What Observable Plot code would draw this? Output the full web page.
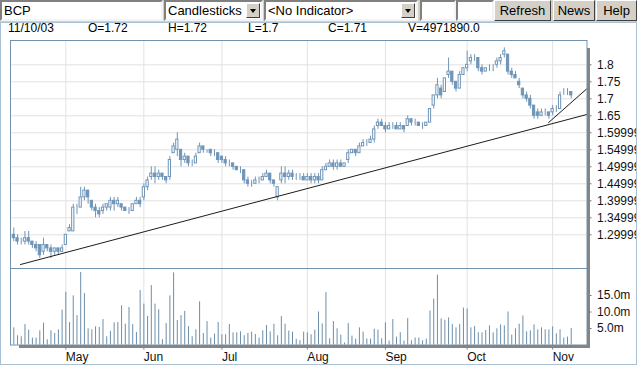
<!DOCTYPE html>
<html><head><meta charset="utf-8">
<script src="https://cdn.jsdelivr.net/npm/d3@7"></script>
<script src="https://cdn.jsdelivr.net/npm/@observablehq/plot@0.6"></script>
<style>
html,body{margin:0;padding:0;width:637px;height:365px;overflow:hidden;background:#fff}
body{position:relative;font-family:"Liberation Sans",Arial,sans-serif;color:#000}
#bar{position:absolute;left:0;top:0;width:637px;height:22px;background:#d4d0c8}
.inp{position:absolute;top:0;height:17px;background:#fff;border-top:2px solid #808080;border-left:2px solid #808080;border-bottom:2px solid #f4f4f4;border-right:2px solid #f4f4f4;font-size:13px;line-height:17px;padding-left:2px;box-sizing:content-box;white-space:nowrap;overflow:hidden}
.arrow{position:absolute;top:1px;right:1px;width:14px;height:15px;background:#d4d0c8;border-top:1px solid #fff;border-left:1px solid #fff;border-bottom:1px solid #404040;border-right:1px solid #404040;box-sizing:border-box}
.arrow:after{content:"";position:absolute;left:3px;top:5px;border-left:3.5px solid transparent;border-right:3.5px solid transparent;border-top:4px solid #000}
.btn{position:absolute;top:0;height:21px;background:#d4d0c8;border-top:1px solid #fff;border-left:1px solid #fff;border-bottom:1px solid #404040;border-right:1px solid #404040;box-sizing:border-box;font-size:13px;line-height:19px;text-align:center}
.info{position:absolute;top:21px;font-size:12px;line-height:14px;white-space:nowrap}
#panel{position:absolute;left:0;top:22px;width:635px;height:341px;border:1px solid #a9c1d3;pointer-events:none}
.sh{position:absolute;background:#858585}
</style></head><body>
<div id="bar">
  <div class="inp" style="left:0;width:157px">BCP</div>
  <div class="inp" style="left:164px;width:93px">Candlesticks<div class="arrow"></div></div>
  <div class="inp" style="left:264px;width:148px">&lt;No Indicator&gt;<div class="arrow"></div></div>
  <div class="inp" style="left:420px;width:30px"></div>
  <div class="inp" style="left:456px;width:32px"></div>
  <div class="btn" style="left:494px;width:57px">Refresh</div>
  <div class="btn" style="left:553px;width:42px">News</div>
  <div class="btn" style="left:596px;width:41px">Help</div>
</div>
<div id="infoRow"></div>
<div id="price" style="position:absolute;left:0;top:36px"></div>
<div id="vol" style="position:absolute;left:0;top:268px"></div>
<div id="panel"></div>
<div class="sh" style="left:587px;top:48px;width:3px;height:300px"></div>
<div class="sh" style="left:19px;top:345px;width:571px;height:3px"></div>
<script>
// ---- data (trading-day index 0 = first session shown, last = 11/10/03) ----
const open = [
1.30,1.29,1.28,1.28,1.29,1.28,1.27,1.27,1.25,1.27,
1.26,1.25,1.26,1.25,1.27,1.31,1.31,1.38,1.38,1.41,
1.43,1.40,1.38,1.37,1.37,1.38,1.38,1.40,1.39,1.39,
1.38,1.37,1.37,1.39,1.40,1.41,1.44,1.47,1.48,1.47,
1.48,1.47,1.47,1.54,1.55,1.55,1.52,1.53,1.51,1.51,
1.54,1.56,1.55,1.55,1.54,1.54,1.53,1.52,1.51,1.51,
1.50,1.49,1.49,1.46,1.45,1.45,1.46,1.46,1.47,1.48,
1.46,1.41,1.46,1.48,1.47,1.48,1.47,1.47,1.47,1.46,
1.47,1.46,1.47,1.46,1.49,1.50,1.51,1.50,1.51,1.50,
1.52,1.54,1.55,1.54,1.56,1.57,1.57,1.58,1.62,1.63,
1.62,1.61,1.62,1.62,1.61,1.62,1.62,1.64,1.63,1.63,
1.62,1.62,1.63,1.68,1.71,1.73,1.72,1.77,1.78,1.75,
1.73,1.77,1.79,1.81,1.82,1.82,1.79,1.78,1.79,1.79,
1.80,1.81,1.83,1.83,1.78,1.77,1.75,1.73,1.71,1.70,
1.68,1.66,1.65,1.66,1.66,1.66,1.67,1.67,1.72,1.72,
1.72];
const high = [
1.32,1.30,1.29,1.31,1.31,1.28,1.28,1.27,1.29,1.27,
1.27,1.26,1.26,1.27,1.30,1.33,1.39,1.39,1.44,1.44,
1.43,1.40,1.39,1.38,1.39,1.39,1.41,1.41,1.41,1.39,
1.38,1.38,1.39,1.41,1.41,1.45,1.47,1.50,1.50,1.49,
1.48,1.47,1.53,1.57,1.60,1.55,1.54,1.53,1.52,1.54,
1.57,1.56,1.55,1.55,1.55,1.54,1.53,1.53,1.52,1.51,
1.50,1.50,1.49,1.47,1.46,1.47,1.47,1.48,1.49,1.48,
1.46,1.44,1.50,1.50,1.49,1.49,1.48,1.48,1.48,1.48,
1.48,1.48,1.48,1.50,1.51,1.52,1.52,1.52,1.52,1.51,
1.55,1.55,1.55,1.57,1.58,1.58,1.59,1.62,1.64,1.64,
1.63,1.63,1.63,1.63,1.63,1.62,1.65,1.64,1.64,1.63,
1.63,1.63,1.67,1.71,1.76,1.74,1.76,1.82,1.78,1.75,
1.78,1.79,1.84,1.83,1.83,1.82,1.80,1.79,1.80,1.80,
1.82,1.83,1.85,1.83,1.79,1.78,1.76,1.73,1.72,1.71,
1.68,1.67,1.67,1.67,1.66,1.68,1.68,1.72,1.73,1.73,
1.72];
const low = [
1.28,1.27,1.27,1.27,1.27,1.26,1.25,1.23,1.24,1.25,
1.23,1.24,1.24,1.25,1.27,1.31,1.31,1.36,1.38,1.40,
1.39,1.37,1.35,1.35,1.36,1.37,1.37,1.37,1.38,1.37,
1.37,1.36,1.37,1.39,1.38,1.40,1.43,1.46,1.45,1.46,
1.46,1.45,1.46,1.54,1.53,1.50,1.51,1.50,1.50,1.51,
1.54,1.54,1.54,1.53,1.53,1.51,1.51,1.50,1.50,1.49,
1.49,1.48,1.45,1.44,1.44,1.45,1.45,1.46,1.47,1.45,
1.44,1.40,1.45,1.45,1.46,1.46,1.46,1.46,1.46,1.46,
1.45,1.45,1.45,1.46,1.49,1.50,1.49,1.49,1.50,1.50,
1.51,1.54,1.53,1.54,1.56,1.56,1.57,1.57,1.61,1.62,
1.60,1.61,1.61,1.61,1.61,1.60,1.62,1.62,1.62,1.62,
1.61,1.62,1.63,1.67,1.70,1.70,1.72,1.76,1.74,1.72,
1.73,1.77,1.78,1.80,1.81,1.78,1.77,1.78,1.78,1.78,
1.79,1.80,1.82,1.77,1.76,1.76,1.73,1.70,1.69,1.67,
1.64,1.64,1.65,1.65,1.64,1.65,1.66,1.67,1.71,1.71,
1.70];
const close = [
1.29,1.28,1.28,1.29,1.28,1.27,1.26,1.24,1.27,1.26,
1.25,1.26,1.25,1.26,1.30,1.32,1.38,1.38,1.41,1.43,
1.41,1.38,1.37,1.36,1.38,1.39,1.40,1.39,1.40,1.38,
1.37,1.37,1.39,1.40,1.39,1.44,1.46,1.48,1.47,1.48,
1.47,1.46,1.52,1.56,1.58,1.52,1.53,1.51,1.51,1.53,
1.56,1.55,1.55,1.54,1.54,1.52,1.52,1.51,1.51,1.50,
1.49,1.49,1.46,1.45,1.45,1.46,1.46,1.47,1.48,1.46,
1.45,1.44,1.48,1.47,1.48,1.47,1.47,1.47,1.46,1.47,
1.46,1.47,1.46,1.49,1.50,1.51,1.50,1.51,1.50,1.51,
1.54,1.55,1.54,1.56,1.57,1.57,1.58,1.61,1.63,1.62,
1.61,1.62,1.62,1.61,1.62,1.61,1.64,1.63,1.63,1.62,
1.62,1.63,1.67,1.71,1.74,1.71,1.76,1.78,1.75,1.73,
1.77,1.79,1.80,1.82,1.82,1.79,1.78,1.79,1.79,1.79,
1.81,1.82,1.84,1.78,1.77,1.76,1.74,1.71,1.70,1.68,
1.65,1.65,1.66,1.66,1.65,1.67,1.67,1.71,1.72,1.72,
1.71];
// volume in millions of shares
const volume = [
5.2,2.8,2.5,6.2,4.5,2.1,2.1,4.3,6.6,1.6,
4.3,3.5,4.6,10.6,16.0,6.8,14.9,8.9,22.0,15.6,
4.9,4.6,5.5,5.3,7.7,2.5,4.1,6.7,6.8,11.9,
6.3,11.4,6.2,3.8,16.5,12.4,8.7,18.0,12.4,10.7,
1.6,6.5,14.9,21.9,7.4,8.9,10.2,5.6,2.5,4.6,
13.1,3.5,7.1,2.1,3.3,6.8,3.1,3.1,6.2,3.7,
3.7,4.0,2.8,3.5,3.9,3.2,2.1,4.3,5.9,4.0,
6.3,2.8,8.6,6.3,4.2,3.9,1.7,1.3,3.9,3.7,
3.1,4.5,10.0,6.4,15.9,1.9,7.1,4.9,3.0,0.6,
6.5,2.7,1.8,5.2,3.9,1.8,1.8,4.8,4.5,1.9,
6.7,1.2,7.7,2.4,3.7,1.2,8.0,1.3,2.1,2.1,
1.3,1.8,10.3,13.9,21.2,7.9,7.5,8.2,6.2,5.2,
6.2,11.2,10.9,5.2,5.6,3.7,3.7,4.4,5.8,3.7,
4.9,6.1,5.8,10.0,3.0,4.9,6.3,8.8,4.0,4.3,
6.1,4.6,5.2,4.6,4.6,5.5,3.4,4.6,2.1,2.4,
4.97];
const monthIdx = [14, 35, 56, 79, 100, 122, 145];
const monthLabels = ["May", "Jun", "Jul", "Aug", "Sep", "Oct", "Nov"];
const priceTicks = [1.8, 1.75, 1.7, 1.65, 1.6, 1.55, 1.5, 1.45, 1.4, 1.35, 1.3];
const priceLabels = ["1.8", "1.75", "1.7", "1.65", "1.5999999999999999", "1.5499999999999998", "1.4999999999999998", "1.4499999999999997", "1.3999999999999997", "1.3499999999999996", "1.2999999999999996"];
const volTicks = [15, 10, 5];
const volLabels = ["15.0m", "10.0m", "5.0m"];
const trendLongIdx = [1.8, 154.25];
const trendLongPrice = [1.2126, 1.654];
const trendShortIdx = [143.9, 154.25];
const trendShortPrice = [1.630, 1.730];
const infoLabels = ["11/10/03", "O=1.72", "H=1.72", "L=1.7", "C=1.71", "V=4971890.0"];

// ---- info row ----
const infoX = [8, 88, 168, 248, 328, 408];
const infoRow = document.getElementById("infoRow");
infoLabels.forEach((t, k) => {
  const s = document.createElement("div");
  s.className = "info"; s.style.left = infoX[k] + "px"; s.textContent = t;
  infoRow.appendChild(s);
});

// ---- chart ----
const blue = "#6f95b8", volBlue = "#6d8ea9", frameCol = "#7392ad", gridCol = "#e2e2e2";
const idx = d3.range(close.length);
const candles = idx.map(i => ({i, o: open[i], h: high[i], l: low[i], c: close[i]}));
const vols = idx.map(i => ({i, v: volume[i]}));
const tl = trendLongIdx.map((x, k) => ({x, y: trendLongPrice[k]}));
const ts = trendShortIdx.map((x, k) => ({x, y: trendShortPrice[k]}));
const xDomain = [-0.89, 154.25];
const font = {fontFamily: "'Liberation Sans', Arial, sans-serif", fontSize: "12px", background: "transparent", color: "#111"};

const price = Plot.plot({
  width: 637, height: 232,
  marginTop: 4, marginBottom: 0, marginLeft: 10, marginRight: 50.5,
  x: {domain: xDomain, axis: null},
  y: {domain: [1.2009, 1.8715], axis: null},
  style: font,
  marks: [
    Plot.gridX(monthIdx, {stroke: gridCol, strokeOpacity: 1}),
    Plot.gridY(priceTicks, {stroke: gridCol, strokeOpacity: 1}),
    Plot.ruleX(candles, {x: "i", y1: "l", y2: "h", stroke: blue, strokeWidth: 1}),
    Plot.rect(candles, {x1: d => d.i - 0.3, x2: d => d.i + 0.3, y1: "o", y2: "c",
      fill: d => d.c >= d.o ? "white" : blue, stroke: blue, strokeWidth: 1}),
    Plot.line(tl, {x: "x", y: "y", stroke: "#1c1c1c", strokeWidth: 1}),
    Plot.line(ts, {x: "x", y: "y", stroke: "#1c1c1c", strokeWidth: 1}),
    Plot.frame({stroke: frameCol}),
    Plot.axisY(priceTicks, {anchor: "right", tickSize: 4, tickPadding: 6, label: null,
      stroke: "#777", tickFormat: d => priceLabels[priceTicks.indexOf(d)]})
  ]
});
document.getElementById("price").appendChild(price);

const vol = Plot.plot({
  width: 637, height: 97,
  marginTop: 0, marginBottom: 20.5, marginLeft: 10, marginRight: 50.5,
  x: {domain: xDomain, axis: null},
  y: {domain: [0, 23.2], axis: null},
  style: font,
  marks: [
    Plot.gridX(monthIdx, {stroke: gridCol, strokeOpacity: 1}),
    Plot.ruleX(vols, {x: "i", y1: 0, y2: "v", stroke: volBlue, strokeWidth: 1}),
    Plot.frame({stroke: frameCol}),
    Plot.axisY(volTicks, {anchor: "right", tickSize: 4, tickPadding: 6, label: null,
      stroke: "#777", tickFormat: d => volLabels[volTicks.indexOf(d)]}),
    Plot.axisX(monthIdx, {anchor: "bottom", tickSize: 5, tickPadding: 2, label: null,
      stroke: "#777", textAnchor: "start", tickFormat: d => monthLabels[monthIdx.indexOf(d)]})
  ]
});
document.getElementById("vol").appendChild(vol);
</script>
</body></html>
